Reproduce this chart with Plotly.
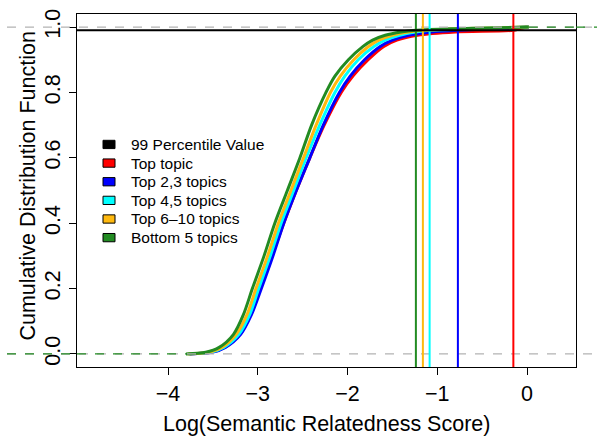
import plotly.graph_objects as go

# Cumulative levels (y) and the log-score (x) at which each group's ECDF reaches them
cdf_levels = [0.0, 0.005, 0.02, 0.06, 0.12, 0.2, 0.3, 0.4, 0.5, 0.6, 0.7, 0.8,
              0.85, 0.9, 0.94, 0.96, 0.975, 0.985, 0.99, 0.995, 1.0]

top_topic = [-3.76, -3.52, -3.37, -3.20, -3.08, -2.97, -2.84, -2.71, -2.57, -2.42, -2.26,
             -2.07, -1.94, -1.77, -1.60, -1.45, -1.22, -0.80, -0.152, -0.08, 0.0]
top_2_3 = [-3.76, -3.51, -3.36, -3.19, -3.07, -2.96, -2.83, -2.71, -2.57, -2.42, -2.27,
           -2.09, -1.97, -1.81, -1.64, -1.50, -1.32, -1.05, -0.77, -0.40, 0.02]
top_4_5 = [-3.77, -3.53, -3.38, -3.21, -3.09, -2.99, -2.86, -2.74, -2.60, -2.46, -2.31,
           -2.14, -2.03, -1.88, -1.71, -1.58, -1.42, -1.24, -1.085, -0.65, 0.02]
top_6_10 = [-3.78, -3.55, -3.40, -3.24, -3.12, -3.02, -2.89, -2.77, -2.63, -2.49, -2.35,
            -2.19, -2.08, -1.93, -1.77, -1.65, -1.50, -1.32, -1.16, -0.75, 0.02]
bottom_5 = [-3.80, -3.58, -3.43, -3.27, -3.16, -3.06, -2.93, -2.81, -2.67, -2.53, -2.40,
            -2.24, -2.14, -1.99, -1.83, -1.72, -1.58, -1.40, -1.238, -0.85, 0.02]

series_names = ["Top topic", "Top 2,3 topics", "Top 4,5 topics", "Top 6\u201310 topics", "Bottom 5 topics"]
series_x = [top_topic, top_2_3, top_4_5, top_6_10, bottom_5]
series_colors = ["#FF0000", "#0000FF", "#00FFFF", "#FFB90F", "#228B22"]

# 99th percentile values per group
p99_values = [-0.152, -0.77, -1.085, -1.16, -1.238]
p99_level = 0.99

x_ticks = [-4, -3, -2, -1, 0]
y_ticks = [0, 0.2, 0.4, 0.6, 0.8, 1.0]
y_tick_text = ["0.0", "0.2", "0.4", "0.6", "0.8", "1.0"]
x_range = [-5.014, 0.546]
y_range = [-0.04, 1.04]

FONT = "Liberation Sans, Arial, Helvetica, sans-serif"
W, H = 604, 443
ML, MR, MT, MB = 77, 28, 9, 76
PW = W - ML - MR
PH = H - MT - MB

fig = go.Figure()

for name, xs, col in zip(series_names, series_x, series_colors):
    fig.add_trace(go.Scatter(x=xs, y=cdf_levels, mode="lines", name=name,
                             line=dict(color=col, width=3, shape="spline", smoothing=0.8),
                             showlegend=False, hoverinfo="skip"))

shapes = []
# gray dashed lines at 0 and 1 across the whole figure
for yv in (0, 1):
    shapes.append(dict(type="line", xref="paper", yref="y", x0=-(ML - 7) / PW, x1=1 + (W - ML - PW - 7) / PW,
                       y0=yv, y1=yv, line=dict(color="#B3B3B3", width=1.2, dash="dash"), layer="above"))
# green step extensions (last ECDF drawn)
shapes.append(dict(type="line", xref="paper", yref="y", x0=-(ML - 7) / PW, x1=0, y0=0, y1=0,
                   line=dict(color="#228B22", width=1.2, dash="dash")))
shapes.append(dict(type="line", xref="x", yref="y", x0=x_range[0], x1=bottom_5[0], y0=0, y1=0,
                   line=dict(color="#228B22", width=1.2, dash="dash")))
shapes.append(dict(type="line", xref="x", yref="y", x0=bottom_5[-1], x1=x_range[1], y0=1, y1=1,
                   line=dict(color="#228B22", width=1.2, dash="dash")))
shapes.append(dict(type="line", xref="paper", yref="y", x0=1, x1=1 + (W - ML - PW - 7) / PW, y0=1, y1=1,
                   line=dict(color="#228B22", width=1.2, dash="dash")))
# 99 percentile vertical lines
for xv, col in zip(p99_values, series_colors):
    shapes.append(dict(type="line", xref="x", yref="paper", x0=xv, x1=xv, y0=0, y1=1,
                       line=dict(color=col, width=2)))
shapes.append(dict(type="line", xref="paper", yref="y", x0=0, x1=1, y0=p99_level, y1=p99_level,
                   line=dict(color="black", width=2)))

# legend (manual, R style)
legend_labels = ["99 Percentile Value"] + series_names
legend_colors = ["#000000"] + series_colors
annotations = []
row0, step = 141.3, 18.9
for i, (lab, col) in enumerate(zip(legend_labels, legend_colors)):
    yc = row0 + i * step
    shapes.append(dict(type="rect", xref="paper", yref="paper",
                       x0=(103 - ML) / PW, x1=(115 - ML) / PW,
                       y0=1 - (yc + 4.2 - MT) / PH, y1=1 - (yc - 4.2 - MT) / PH,
                       fillcolor=col, line=dict(color="black", width=1)))
    annotations.append(dict(text=lab, xref="paper", yref="paper", x=(129 - ML) / PW,
                            y=1 - (yc - MT) / PH, xanchor="left", yanchor="middle", showarrow=False,
                            font=dict(family=FONT, size=15.5, color="black")))

annotations.append(dict(text="Log(Semantic Relatedness Score)", xref="paper", yref="paper",
                        x=0.5, y=1 - (425 - MT) / PH, xanchor="center", yanchor="middle",
                        showarrow=False, font=dict(family=FONT, size=21.5, color="black")))
annotations.append(dict(text="Cumulative Distribution Function", xref="paper", yref="paper",
                        x=-(ML - 28) / PW, y=1 - (183 - MT) / PH, xanchor="center", yanchor="middle",
                        textangle=-90, showarrow=False, font=dict(family=FONT, size=21.5, color="black")))

fig.update_layout(
    width=W, height=H, margin=dict(l=ML, r=MR, t=MT, b=MB, pad=0),
    paper_bgcolor="white", plot_bgcolor="white",
    shapes=shapes, annotations=annotations, showlegend=False,
    font=dict(family=FONT, color="black"),
)
fig.update_xaxes(range=x_range, tickvals=x_ticks, ticktext=["\u22124", "\u22123", "\u22122", "\u22121", "0"],
                 ticks="outside", ticklen=7, tickcolor="black", tickwidth=1,
                 showline=True, linecolor="black", linewidth=1, mirror=True,
                 showgrid=False, zeroline=False, tickfont=dict(family=FONT, size=21.5, color="black"))
fig.update_yaxes(range=y_range, tickvals=y_ticks, ticktext=y_tick_text, tickangle=-90,
                 ticks="outside", ticklen=7, tickcolor="black", tickwidth=1,
                 showline=True, linecolor="black", linewidth=1, mirror=True,
                 showgrid=False, zeroline=False, tickfont=dict(family=FONT, size=21.5, color="black"))

fig.write_html("out.html")
